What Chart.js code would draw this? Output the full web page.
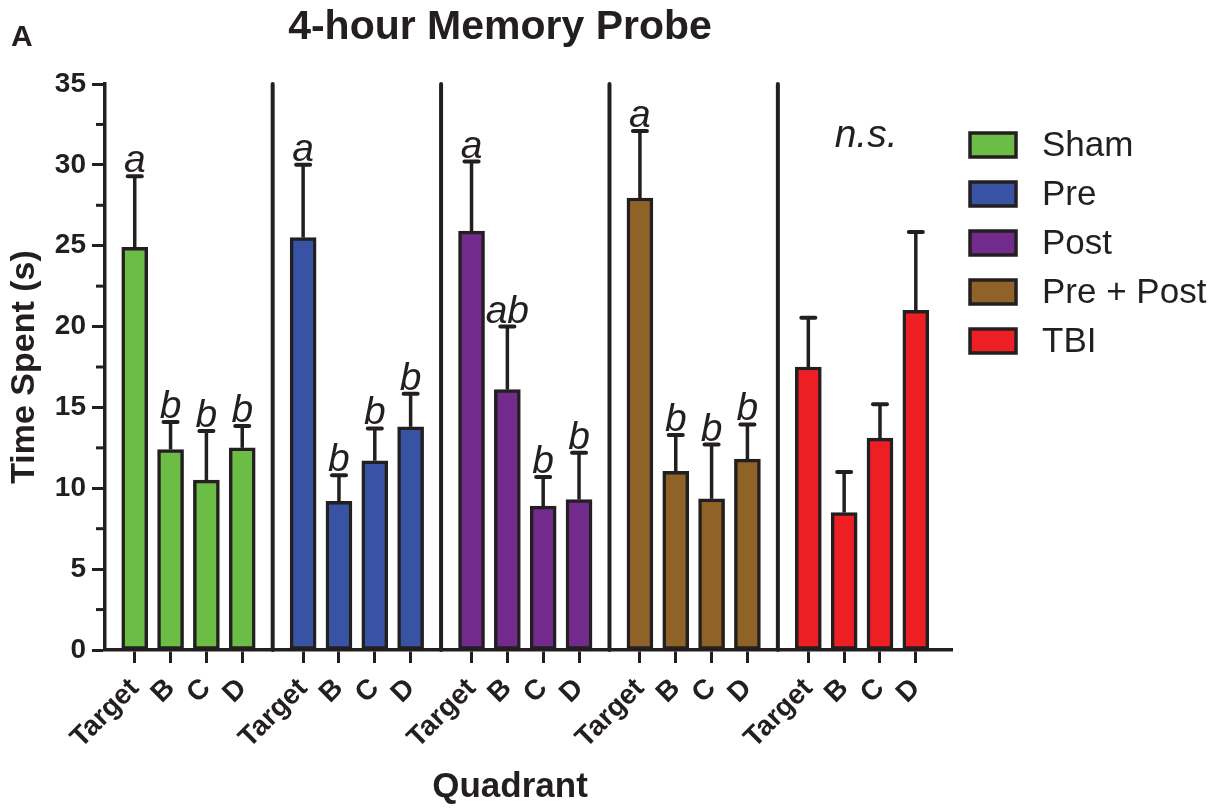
<!DOCTYPE html>
<html>
<head>
<meta charset="utf-8">
<script src="https://cdn.jsdelivr.net/npm/chart.js@4.4.0/dist/chart.umd.min.js"></script>
<style>
  html, body { margin: 0; padding: 0; background: #fff; }
  #wrap { width: 1221px; height: 808px; }
</style>
</head>
<body>
<div id="wrap"><canvas id="chart-probe" width="1221" height="808"></canvas></div>
<script>
// 4-hour memory probe - time spent per quadrant, mean + SEM
var quadrants = ['Target', 'B', 'C', 'D'];
var groups = ['Sham', 'Pre', 'Post', 'Pre + Post', 'TBI'];

var shamMeans = [24.9, 12.4, 10.5, 12.5];
var preMeans = [25.5, 9.2, 11.7, 13.8];
var postMeans = [25.9, 16.1, 8.9, 9.3];
var prePostMeans = [27.95, 11.05, 9.35, 11.8];
var tbiMeans = [17.5, 8.5, 13.1, 21.0];

var shamSem = [4.4, 1.7, 3.05, 1.35];
var preSem = [4.5, 1.6, 2.0, 2.05];
var postSem = [4.3, 3.9, 1.8, 2.9];
var prePostSem = [4.15, 2.25, 3.35, 2.15];
var tbiSem = [3.05, 2.5, 2.1, 4.85];

var shamLetters = ['a', 'b', 'b', 'b'];
var preLetters = ['a', 'b', 'b', 'b'];
var postLetters = ['a', 'ab', 'b', 'b'];
var prePostLetters = ['a', 'b', 'b', 'b'];
var tbiLetters = ['', '', '', ''];
var tbiNote = 'n.s.';

var yTicks = [0, 5, 10, 15, 20, 25, 30, 35];

var colors = ['#6bbd45', '#3953a4', '#722a8c', '#8f6228', '#ed1f24'];
var ink = '#231f20';
var fontFam = "'Liberation Sans', Arial, Helvetica, sans-serif";
var groupStep = 4.7;

var allMeans = [shamMeans, preMeans, postMeans, prePostMeans, tbiMeans];
var allSem = [shamSem, preSem, postSem, prePostSem, tbiSem];
var allLetters = [shamLetters, preLetters, postLetters, prePostLetters, tbiLetters];

function xPos(g, i) {
    return g * groupStep + i;
}

var tickPositions = [];
var datasets = [];
for (var g = 0; g < groups.length; g++) {
    var pts = [];
    for (var i = 0; i < quadrants.length; i++) {
        pts.push({ x: xPos(g, i), y: allMeans[g][i] });
        tickPositions.push(xPos(g, i));
    }
    datasets.push({
        label: groups[g],
        data: pts,
        backgroundColor: colors[g],
        borderColor: ink,
        borderWidth: 3.5,
        borderSkipped: false,
        barThickness: 26,
        grouped: false
    });
}

var extras = {
    id: 'extras',
    afterDatasetsDraw: function (chart) {
        var c = chart.ctx;
        var xs = chart.scales.x;
        var ys = chart.scales.y;
        c.save();
        c.strokeStyle = ink;
        c.fillStyle = ink;
        c.lineCap = 'round';

        // group separators
        c.lineWidth = 4;
        for (var g = 1; g < groups.length; g++) {
            var sx = xs.getPixelForValue(xPos(g, 0) - (groupStep - 3) / 2);
            c.beginPath();
            c.moveTo(sx, ys.getPixelForValue(35));
            c.lineTo(sx, ys.getPixelForValue(0));
            c.stroke();
        }

        // error bars and letters
        c.font = 'italic 39px ' + fontFam;
        c.textAlign = 'center';
        c.textBaseline = 'alphabetic';
        for (var g = 0; g < groups.length; g++) {
            for (var i = 0; i < quadrants.length; i++) {
                var px = xs.getPixelForValue(xPos(g, i));
                var yTop = ys.getPixelForValue(allMeans[g][i]);
                var yCap = ys.getPixelForValue(allMeans[g][i] + allSem[g][i]);
                c.lineWidth = 3.5;
                c.lineCap = 'butt';
                c.beginPath();
                c.moveTo(px, yTop);
                c.lineTo(px, yCap);
                c.stroke();
                c.lineCap = 'round';
                c.lineWidth = 4;
                c.beginPath();
                c.moveTo(px - 7, yCap);
                c.lineTo(px + 7, yCap);
                c.stroke();
                if (allLetters[g][i]) {
                    c.fillText(allLetters[g][i], px, yCap - 4);
                }
            }
        }
        var nx = xs.getPixelForValue(xPos(4, 1.5));
        c.fillText(tbiNote, nx + 4, ys.getPixelForValue(31.1));

        // minor ticks on y axis
        c.lineWidth = 3;
        c.lineCap = 'butt';
        for (var k = 0; k < yTicks.length - 1; k++) {
            var my = ys.getPixelForValue(yTicks[k] + 2.5);
            c.beginPath();
            c.moveTo(xs.left - 9, my);
            c.lineTo(xs.left, my);
            c.stroke();
        }

        // title, panel letter, x axis title
        c.textAlign = 'center';
        c.font = 'bold 41px ' + fontFam;
        c.fillText('4-hour Memory Probe', 500, 39);
        c.font = 'bold 35px ' + fontFam;
        c.fillText('Quadrant', 510, 797);
        c.textAlign = 'left';
        c.font = 'bold 30px ' + fontFam;
        c.fillText('A', 11, 46);

        // legend
        c.font = '35px ' + fontFam;
        c.textBaseline = 'middle';
        for (var g = 0; g < groups.length; g++) {
            var cy = 145 + g * 49;
            c.fillStyle = colors[g];
            c.fillRect(970, cy - 12, 46, 24);
            c.lineWidth = 3.5;
            c.strokeStyle = ink;
            c.strokeRect(970, cy - 12, 46, 24);
            c.fillStyle = ink;
            c.fillText(groups[g], 1042, cy + 1);
        }
        c.restore();
    }
};

var ctx = document.getElementById('chart-probe').getContext('2d');
var chartProbe = new Chart(ctx, {
    type: 'bar',
    data: { datasets: datasets },
    options: {
        responsive: false,
        animation: false,
        layout: { padding: { top: 84, right: 269, left: 0, bottom: 0 } },
        plugins: {
            legend: { display: false },
            tooltip: { enabled: false }
        },
        scales: {
            x: {
                type: 'linear',
                offset: false,
                min: -0.83,
                max: xPos(4, 3) + 1.01,
                afterBuildTicks: function (scale) {
                    scale.ticks = tickPositions.map(function (v) { return { value: v }; });
                },
                afterFit: function (scale) { scale.height = 158; },
                grid: {
                    offset: false,
                    drawOnChartArea: false,
                    drawTicks: true,
                    tickLength: 13,
                    tickWidth: 3,
                    tickColor: ink
                },
                border: { display: true, color: ink, width: 3.5 },
                ticks: {
                    autoSkip: false,
                    minRotation: 45,
                    maxRotation: 45,
                    padding: 9,
                    color: ink,
                    font: { family: fontFam, size: 28, weight: 'bold' },
                    callback: function (value, index) {
                        return quadrants[index % quadrants.length];
                    }
                }
            },
            y: {
                min: 0,
                max: 35,
                afterFit: function (scale) { scale.width = 105; },
                afterBuildTicks: function (scale) {
                    scale.ticks = yTicks.map(function (v) { return { value: v }; });
                },
                grid: {
                    drawOnChartArea: false,
                    drawTicks: true,
                    tickLength: 13,
                    tickWidth: 3,
                    tickColor: ink
                },
                border: { display: true, color: ink, width: 3.5 },
                ticks: {
                    padding: 6,
                    color: ink,
                    font: { family: fontFam, size: 28, weight: 'bold' }
                },
                title: {
                    display: true,
                    text: 'Time Spent (s)',
                    color: ink,
                    font: { family: fontFam, size: 34, weight: 'bold' },
                    padding: { top: 4, bottom: 0 }
                }
            }
        }
    },
    plugins: [extras]
});
</script>
</body>
</html>
